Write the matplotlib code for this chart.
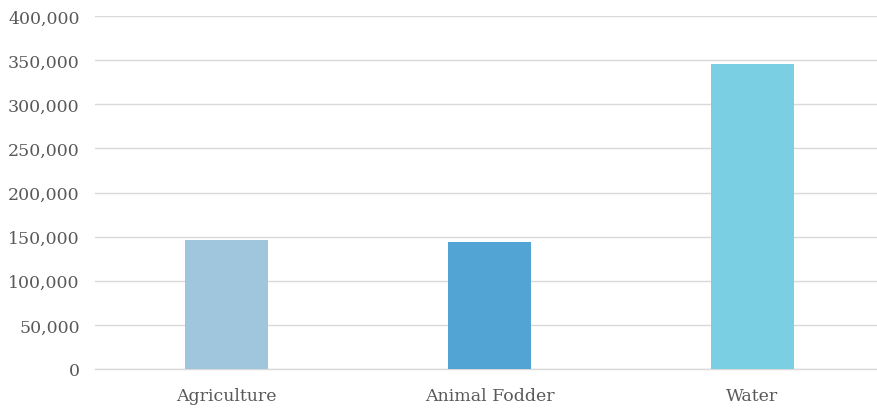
import matplotlib.pyplot as plt
from matplotlib.ticker import FuncFormatter

# -------------------------
# Data
# -------------------------
categories = ["Agriculture", "Animal Fodder", "Water"]
values = [146000, 144000, 346000]
bar_colors = ["#9FC6DD", "#51A4D4", "#7BCFE3"]
y_ticks = [0, 50000, 100000, 150000, 200000, 250000, 300000, 350000, 400000]

TEXT_COLOR = "#595959"
GRID_COLOR = "#D9D9D9"

plt.rcParams["font.family"] = ["DejaVu Serif"]

fig = plt.figure(figsize=(8.78, 4.10), dpi=100)
ax = fig.add_axes([95 / 878, 40 / 410, 1 - 95 / 878, (370 - 17) / 410])

x = list(range(len(categories)))
ax.bar(x, values, width=0.316, color=bar_colors, zorder=3)

ax.set_ylim(0, 400000)
ax.set_xlim(-0.5, 2.477)
ax.set_yticks(y_ticks)
ax.yaxis.set_major_formatter(FuncFormatter(lambda v, p: f"{int(v):,}"))
ax.set_xticks(x)
ax.set_xticklabels(categories)

ax.grid(axis="y", color=GRID_COLOR, linewidth=1.0, zorder=0)
for side in ["top", "right", "left"]:
    ax.spines[side].set_visible(False)
ax.spines["bottom"].set_color(GRID_COLOR)
ax.spines["bottom"].set_linewidth(1.0)

ax.tick_params(axis="y", length=0, pad=11, labelsize=12.5, labelcolor=TEXT_COLOR)
ax.tick_params(axis="x", length=0, pad=13, labelsize=12.5, labelcolor=TEXT_COLOR)

fig.savefig("out.png", dpi=100)
